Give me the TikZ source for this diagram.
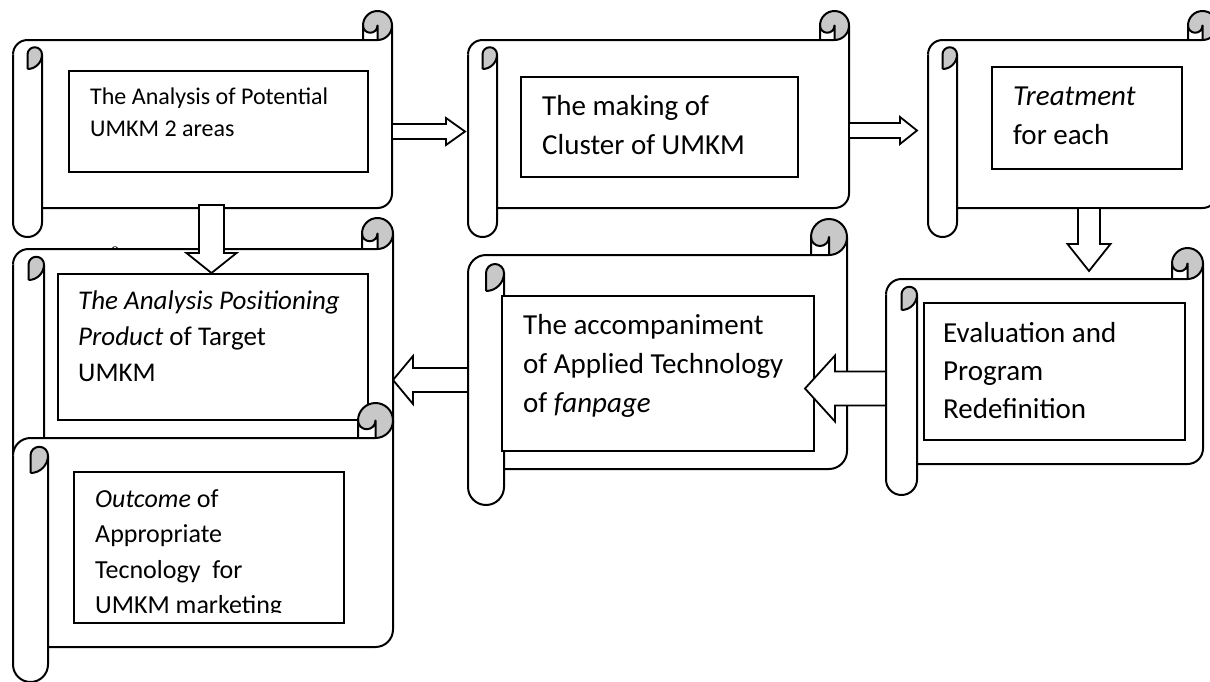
\documentclass[tikz,border=0pt]{standalone}
\usepackage{fontspec}
\setmainfont{Carlito}
\newfontfamily\serifeight{Liberation Serif}
\usetikzlibrary{calc}
\definecolor{curlgray}{RGB}{200,200,200}
\tikzset{
  scrollline/.style={line width=2pt, line join=round},
  boxstyle/.style={draw, line width=1.6pt, fill=white, rectangle, inner sep=0pt, anchor=north west},
  arrowstyle/.style={draw, fill=white, line width=1.8pt, line join=miter},
  txtstyle/.style={anchor=base west, inner sep=0pt},
}
\newcommand\boxlines[3]{\vtop{\fontsize{#1pt}{#2pt}\selectfont #3}}
\newcommand\hscroll[6]{% name l t r b ch
  \pgfmathsetmacro\scrL{#2}%
  \pgfmathsetmacro\scrR{#4}%
  \pgfmathsetmacro\scrH{#6/2}%
  \pgfmathsetmacro\scrQ{#6/4}%
  \pgfmathsetmacro\scrYC{-(#3+#6/2)}%
  \pgfmathsetmacro\scrYa{-(#3+#6)}%
  \pgfmathsetmacro\scrYb{-(#3+1.5*#6)}%
  \pgfmathsetmacro\scrYbb{-(#3+2*#6)}%
  \pgfmathsetmacro\scrYc{-(#5-#6)}%
  \pgfmathsetmacro\scrYcc{-(#5-1.5*#6)}%
  \pgfmathsetmacro\scrYd{-(#5-#6/2)}%
  \pgfmathsetmacro\scrXa{#4-#6}%
  \pgfmathsetmacro\scrXb{#4-#6/2}%
  \pgfmathsetmacro\scrXl{#2+#6/2}%
  \pgfmathsetmacro\scrXm{#2+#6}%
  \coordinate (#1) at ({(#2+#4)/2},{-(#3+#5)/2});
  \fill[curlgray] (\scrXb,\scrYC) circle[radius=\scrH];
  \fill[white] (\scrR,\scrYC) arc[start angle=0,end angle=-90,radius=\scrH]
     -- (\scrXb,\scrYC) arc[start angle=0,end angle=-180,radius=\scrQ]
     -- (\scrXa,\scrYa) -- (\scrXl,\scrYa) arc[start angle=90,end angle=180,radius=\scrH]
     -- (\scrL,\scrYd) arc[start angle=180,end angle=360,radius=\scrH]
     -- (\scrXm,\scrYc) -- (\scrXb,\scrYc) arc[start angle=270,end angle=360,radius=\scrH]
     -- cycle;
  \fill[curlgray] (\scrXl,\scrYbb) -- (\scrXl,\scrYb) arc[start angle=180,end angle=0,radius=\scrQ]
     arc[start angle=0,end angle=-90,radius=\scrH] -- cycle;
  \draw[scrollline] (\scrL,\scrYb) arc[start angle=180,end angle=90,radius=\scrH]
     -- (\scrXb,\scrYa) arc[start angle=-90,end angle=0,radius=\scrH]
     -- (\scrR,\scrYcc) arc[start angle=0,end angle=-90,radius=\scrH] -- (\scrXm,\scrYc);
  \draw[scrollline] (\scrXm,\scrYb) -- (\scrXm,\scrYd) arc[start angle=0,end angle=-180,radius=\scrH] -- (\scrL,\scrYb);
  \draw[scrollline] (\scrXa,\scrYa) -- (\scrXa,\scrYC) arc[start angle=180,end angle=0,radius=\scrH];
  \draw[scrollline] (\scrXb,\scrYa) -- (\scrXb,\scrYC) arc[start angle=0,end angle=-180,radius=\scrQ];
  \draw[scrollline] (\scrXl,\scrYbb) -- (\scrXl,\scrYb) arc[start angle=180,end angle=0,radius=\scrQ]
     arc[start angle=0,end angle=-90,radius=\scrH];
}
\newcommand\blockarrow[5]{% from, to, shaft half, head half, head length
  \coordinate (hb) at ($(#2)!#5pt!(#1)$);
  \draw[arrowstyle] ($(#1)!#3pt!90:(#2)$) -- ($(hb)!#3pt!90:(#2)$) -- ($(hb)!#4pt!90:(#2)$)
     -- (#2) -- ($(hb)!#4pt!-90:(#2)$) -- ($(hb)!#3pt!-90:(#2)$) -- ($(#1)!#3pt!-90:(#2)$) -- cycle;
}
\begin{document}
\begin{tikzpicture}[x=1pt,y=1pt]
\useasboundingbox (0,0) rectangle (1210,-681);
\fill[white] (0,0) rectangle (1210,-681);
\clip (0,0) rectangle (1210,-681);

\node[txtstyle] (eight) at (111,-257) {\serifeight\fontsize{16pt}{18pt}\selectfont 8};

% top row
\hscroll{s1}{13}{11}{392}{237}{29}
\node[boxstyle, minimum width=299pt, minimum height=101pt] (box1) at (68,-70) {};
\node[txtstyle] (t1) at (90,-104) {\boxlines{24}{32}{\hbox{The Analysis of Potential}\hbox{UMKM 2 areas}}};

\hscroll{s2}{468}{11}{849}{237}{29}
\node[boxstyle, minimum width=277pt, minimum height=100pt] (box2) at (520,-76) {};
\node[txtstyle] (t2) at (542,-115) {\boxlines{29}{39}{\hbox{The making of}\hbox{Cluster of UMKM}}};

\hscroll{s3}{928}{11}{1217}{237}{29}
\node[boxstyle, minimum width=190pt, minimum height=102pt] (box3) at (991,-66) {};
\node[txtstyle] (t3) at (1013,-105) {\boxlines{29}{39}{\hbox{\itshape Treatment}\hbox{for each}}};

% left column
\hscroll{s4}{13}{218}{393}{469}{31}
\node[boxstyle, minimum width=310pt, minimum height=146pt] (box4) at (57,-273) {};
\node[txtstyle] (t4) at (78,-309) {\boxlines{27}{36}{\hbox{\itshape The Analysis Positioning}\hbox{\textit{Product} of Target}\hbox{UMKM}}};

\hscroll{s7}{13}{403}{393}{682}{35}
\node[boxstyle, minimum width=270pt, minimum height=151pt] (box7) at (73,-471) {};
\begin{scope}
\clip (73,-471) rectangle (343,-612);
\node[txtstyle] (t7) at (95,-507) {\boxlines{26}{35.5}{\hbox{\textit{Outcome} of}\hbox{Appropriate}\hbox{Tecnology\ \ for}\hbox{UMKM marketing}}};
\end{scope}

% middle row
\hscroll{s5}{468}{219}{847}{505}{36}
\node[boxstyle, minimum width=312pt, minimum height=155pt] (box5) at (501,-295) {};
\node[txtstyle] (t5) at (523,-334) {\boxlines{29}{39}{\hbox{The accompaniment}\hbox{of Applied Technology}\hbox{of \textit{fanpage}}}};

\hscroll{s6}{886}{248}{1203}{495}{31}
\node[boxstyle, minimum width=261pt, minimum height=137pt] (box6) at (923,-302) {};
\node[txtstyle] (t6) at (943,-342) {\boxlines{29}{38}{\hbox{Evaluation and}\hbox{Program}\hbox{Redefinition}}};

% arrows
\coordinate (a12s) at (392,-131.5);
\coordinate (a12e) at (465,-131.5);
\blockarrow{a12s}{a12e}{7.5}{13.5}{19}
\coordinate (a23s) at (849,-130.5);
\coordinate (a23e) at (917,-130.5);
\blockarrow{a23s}{a23e}{7.5}{13.5}{17}
\coordinate (a36s) at (1089,-208);
\coordinate (a36e) at (1089,-271);
\blockarrow{a36s}{a36e}{11}{21.5}{27}
\coordinate (a65s) at (886,-388.5);
\coordinate (a65e) at (805,-388.5);
\blockarrow{a65s}{a65e}{17}{33}{30}
\coordinate (a54s) at (468,-380);
\coordinate (a54e) at (393,-380);
\blockarrow{a54s}{a54e}{12}{24}{20}
\coordinate (a14s) at (211.5,-205);
\coordinate (a14e) at (211.5,-273);
\blockarrow{a14s}{a14e}{12.5}{25}{20}
\end{tikzpicture}
\end{document}
